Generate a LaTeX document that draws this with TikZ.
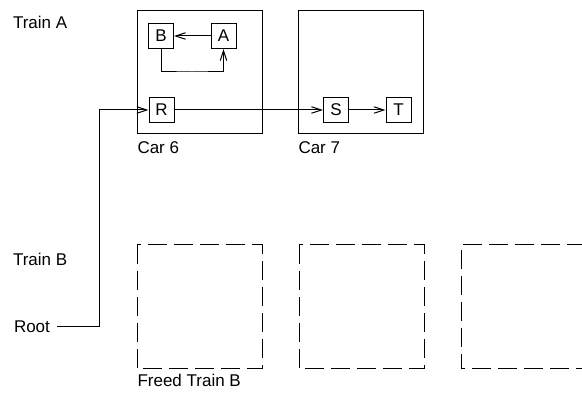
\documentclass[tikz,border=0pt]{standalone}
\usepackage{fontspec}
\setmainfont{Liberation Sans}
\usetikzlibrary{arrows.meta}
\begin{document}
\begin{tikzpicture}[x=1pt,y=-1pt,line width=1pt,
  every node/.style={font=\fontsize{17}{20}\selectfont},
  lbl/.style={anchor=base west,inner sep=0pt},
  obj/.style={draw,minimum width=25pt,minimum height=25pt,inner sep=0pt},
  car/.style={draw},
  freed/.style={draw,dash pattern=on 19pt off 7pt},
  arr/.style={-{Straight Barb[length=10pt,width=6.5pt]}}]
\useasboundingbox (0,0) rectangle (582,395);
\clip (0,0) rectangle (582,395);
% texts
\node[lbl] (trainA) at (12.5,29) {Train A};
\node[lbl] (trainB) at (12.5,266) {Train B};
\node[lbl] (root) at (13.5,333) {Root};
\node[lbl] (car6) at (137,154) {Car 6};
\node[lbl] (car7) at (298,154) {Car 7};
\node[lbl] (freed) at (137,387) {Freed Train B};
% cars
\draw[car] (137,11) rectangle (262,134);
\draw[car] (298,11) rectangle (423,134);
% freed boxes
\draw[freed] (137,245) rectangle (262,369);
\draw[freed] (299,245) rectangle (424,369);
\draw[freed] (586,245) -- (461,245) -- (461,369) -- (586,369);
% objects
\node[obj] (B) at (161,36) {B};
\node[obj] (A) at (223.5,36) {A};
\node[obj] (R) at (161.5,110) {R};
\node[obj] (S) at (336,110) {S};
\node[obj] (T) at (398.5,110) {T};
\coordinate (rootend) at (57,327);
% connectors
\draw[arr] (A) -- (B);
\draw[arr] (B.south) |- (192,72) -| (A.south);
\draw[arr] (rootend) -- (99,327) |- (R.west);
\draw[arr] (R) -- (S);
\draw[arr] (S) -- (T);
\end{tikzpicture}
\end{document}
